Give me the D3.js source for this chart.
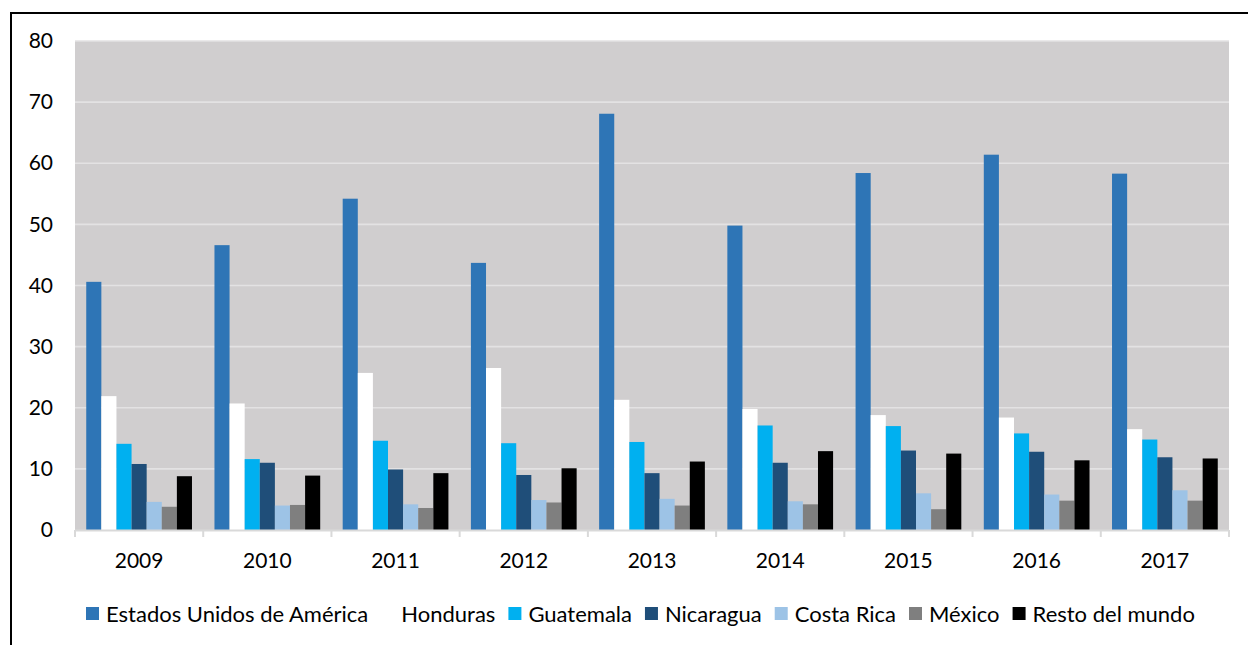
<!DOCTYPE html>
<html>
<head>
<meta charset="utf-8">
<script src="https://cdn.jsdelivr.net/npm/d3@7"></script>
<style>
  html, body { margin: 0; padding: 0; background: #fff; }
  svg { display: block; font-family: Lato, "Open Sans", sans-serif; }
</style>
</head>
<body>
<svg id="chart" width="1248" height="645"></svg>
<script>
// Years on the category axis
const years = ["2009", "2010", "2011", "2012", "2013", "2014", "2015", "2016", "2017"];

// Series names (legend order) and their fills
const seriesNames = ["Estados Unidos de América", "Honduras", "Guatemala", "Nicaragua", "Costa Rica", "México", "Resto del mundo"];
const seriesColors = ["#2e75b6", "#ffffff", "#00b0f0", "#1f4e79", "#9dc3e6", "#7f7f7f", "#000000"];

// Values per series, one per year
const estadosUnidos = [40.6, 46.6, 54.2, 43.7, 68.1, 49.8, 58.4, 61.4, 58.3];
const honduras      = [21.9, 20.7, 25.7, 26.5, 21.3, 19.8, 18.8, 18.4, 16.5];
const guatemala     = [14.1, 11.6, 14.6, 14.2, 14.4, 17.1, 17.0, 15.8, 14.8];
const nicaragua     = [10.8, 11.0,  9.9,  9.0,  9.3, 11.0, 13.0, 12.8, 11.9];
const costaRica     = [ 4.6,  4.0,  4.2,  4.9,  5.1,  4.7,  6.0,  5.8,  6.5];
const mexico        = [ 3.8,  4.1,  3.6,  4.5,  4.0,  4.2,  3.4,  4.8,  4.8];
const restoMundo    = [ 8.8,  8.9,  9.3, 10.1, 11.2, 12.9, 12.5, 11.4, 11.7];

// Y-axis tick values
const yTicks = [0, 10, 20, 30, 40, 50, 60, 70, 80];

const seriesValues = [estadosUnidos, honduras, guatemala, nicaragua, costaRica, mexico, restoMundo];

const svg = d3.select("#chart");
const W = 1248, H = 645;
const plot = { left: 75, right: 1229, top: 41, bottom: 530 };

svg.append("rect").attr("width", W).attr("height", H).attr("fill", "#ffffff");

// Outer chart frame
svg.append("rect")
  .attr("x", 11).attr("y", 13)
  .attr("width", W + 20).attr("height", H + 20)
  .attr("fill", "none").attr("stroke", "#000").attr("stroke-width", 2);

const x = d3.scaleBand().domain(years).range([plot.left, plot.right]).paddingInner(0).paddingOuter(0);
const gapFrac = 0.0877;
const xInner = d3.scaleBand().domain(seriesNames)
  .range([x.bandwidth() * gapFrac, x.bandwidth() * (1 - gapFrac)]);
const y = d3.scaleLinear().domain([0, 80]).range([plot.bottom, plot.top]);

// Plot background
svg.append("rect")
  .attr("x", plot.left).attr("y", plot.top)
  .attr("width", plot.right - plot.left).attr("height", plot.bottom - plot.top)
  .attr("fill", "#d0cecf");

// Horizontal gridlines
svg.append("g")
  .selectAll("line")
  .data(yTicks.filter(t => t > 0))
  .join("line")
  .attr("x1", plot.left).attr("x2", plot.right)
  .attr("y1", d => y(d)).attr("y2", d => y(d))
  .attr("stroke", "#e3e2e3").attr("stroke-width", 1.6);

// Bars
const table = years.map((yr, i) => ({ year: yr, values: seriesNames.map((s, j) => ({ name: s, color: seriesColors[j], value: seriesValues[j][i] })) }));

svg.append("g")
  .selectAll("g")
  .data(table)
  .join("g")
  .attr("transform", d => `translate(${x(d.year)},0)`)
  .selectAll("rect")
  .data(d => d.values)
  .join("rect")
  .attr("x", d => xInner(d.name))
  .attr("width", xInner.bandwidth())
  .attr("y", d => y(d.value))
  .attr("height", d => y(0) - y(d.value))
  .attr("fill", d => d.color);

// Y axis labels
const yAxis = d3.axisLeft(y).tickValues(yTicks).tickSize(0).tickPadding(0).tickFormat(d3.format("d"));
const gy = svg.append("g").attr("transform", `translate(${plot.left - 22},0)`).call(yAxis);
gy.select(".domain").remove();
gy.selectAll("text").attr("font-size", 21).attr("fill", "#000").attr("font-family", "Lato, sans-serif");

// X axis with category boundary ticks
const gx = svg.append("g").attr("transform", `translate(0,${plot.bottom})`);
gx.append("line")
  .attr("x1", plot.left).attr("x2", plot.right)
  .attr("y1", 0.5).attr("y2", 0.5)
  .attr("stroke", "#d9d9d9").attr("stroke-width", 2);
const bounds = years.map(d => x(d)).concat([plot.right]);
gx.selectAll("line.tk")
  .data(bounds)
  .join("line")
  .attr("class", "tk")
  .attr("x1", d => d).attr("x2", d => d)
  .attr("y1", 0).attr("y2", 7)
  .attr("stroke", "#d9d9d9").attr("stroke-width", 2);
gx.selectAll("text")
  .data(years)
  .join("text")
  .attr("x", d => x(d) + x.bandwidth() / 2)
  .attr("y", 38)
  .attr("text-anchor", "middle")
  .attr("font-size", 21)
  .attr("fill", "#000")
  .text(d => d);

// Legend
const legend = svg.append("g").attr("transform", "translate(86,614)");
const items = legend.selectAll("g").data(seriesNames.map((s, j) => ({ name: s, color: seriesColors[j] }))).join("g");
items.append("rect")
  .attr("y", -7).attr("width", 13).attr("height", 13)
  .attr("fill", d => d.color);
items.append("text")
  .attr("x", 20).attr("y", 0).attr("dy", "0.35em")
  .attr("font-size", 22).attr("fill", "#000")
  .text(d => d.name);
let cx = 0;
items.each(function () {
  const g = d3.select(this);
  g.attr("transform", `translate(${cx},0)`);
  cx += 20 + g.select("text").node().getComputedTextLength() + 13;
});
</script>
</body>
</html>
